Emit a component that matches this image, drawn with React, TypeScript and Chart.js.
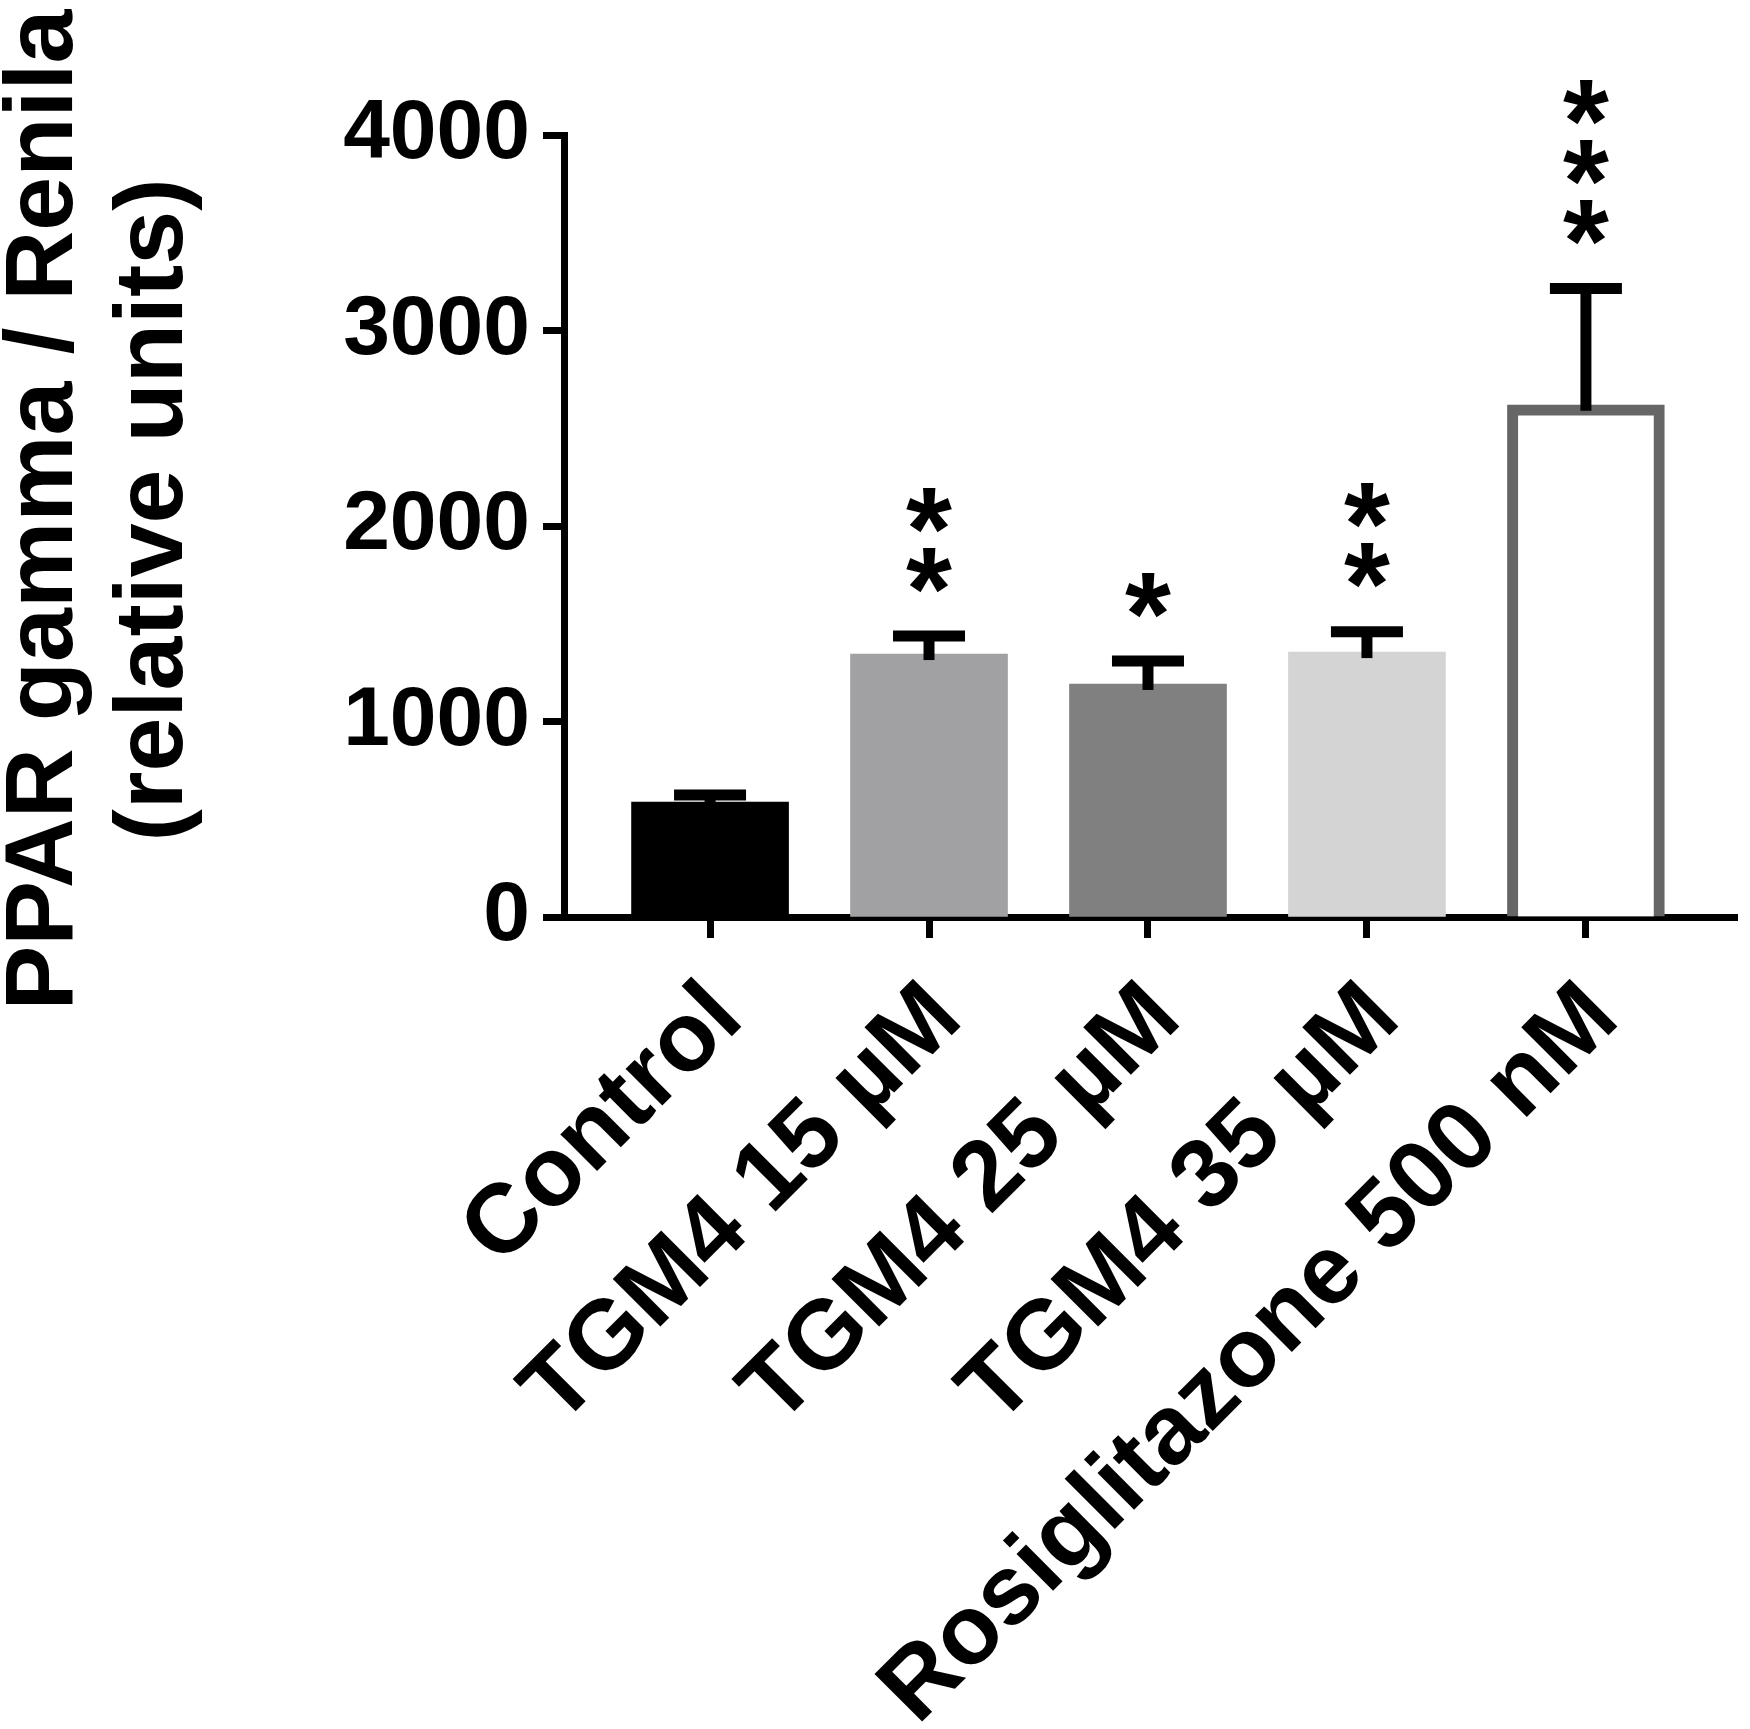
import { useEffect, useRef } from "react";
import { Chart, registerables } from "chart.js";

Chart.register(...registerables);

const CATEGORIES = ["Control", "TGM4 15 µM", "TGM4 25 µM", "TGM4 35 µM", "Rosiglitazone 500 nM"];
const MEANS = [588, 1345, 1192, 1355, 2620];
const SEM = [36, 92, 117, 104, 595];
const STARS = ["", "**", "*", "**", "***"];
const Y_TICKS = [0, 1000, 2000, 3000, 4000];
const Y_TITLE = ["PPAR gamma / Renila", "(relative units)"];

const FILLS = ["#000000", "#a1a1a4", "#808080", "#d4d4d4", "#ffffff"];
const EDGES = ["#000000", "#a1a1a4", "#808080", "#d4d4d4", "#666666"];
const EDGE_WIDTHS = [0, 0, 0, 0, 11];

const FONT = "'Liberation Sans', Arial, Helvetica, sans-serif";

// SEM bars above each bar plus the significance stars
const errorBars = {
  id: "errorBars",
  afterDatasetsDraw(chart: any) {
    const { ctx } = chart;
    const x = chart.scales.x;
    const y = chart.scales.y;
    ctx.save();
    ctx.strokeStyle = "#000";
    ctx.fillStyle = "#000";
    ctx.lineWidth = 11;
    ctx.lineCap = "butt";
    MEANS.forEach((m, i) => {
      const px = x.getPixelForValue(i);
      const top = y.getPixelForValue(m + SEM[i]);
      const base = y.getPixelForValue(m);
      ctx.beginPath();
      ctx.moveTo(px, base + 6);
      ctx.lineTo(px, top);
      ctx.stroke();
      ctx.beginPath();
      ctx.moveTo(px - 36, top);
      ctx.lineTo(px + 36, top);
      ctx.stroke();

      ctx.font = `bold 118px ${FONT}`;
      ctx.textAlign = "left";
      ctx.textBaseline = "alphabetic";
      const mt = ctx.measureText("*");
      const w = mt.actualBoundingBoxRight + mt.actualBoundingBoxLeft;
      const dy = (mt.actualBoundingBoxAscent - mt.actualBoundingBoxDescent) / 2;
      STARS[i].split("").forEach((s, k) => {
        const cy = top - 66 - k * 60;
        ctx.fillText(s, px - w / 2 + mt.actualBoundingBoxLeft, cy + dy);
      });
    });
    ctx.restore();
  },
};

// two-line y title, sitting a little above the middle of the plot like the original
const yTitle = {
  id: "yTitle",
  afterDraw(chart: any) {
    const { ctx, chartArea } = chart;
    const cy = (chartArea.top + chartArea.bottom) / 2 - 16;
    ctx.save();
    ctx.fillStyle = "#000";
    ctx.font = `bold 97px ${FONT}`;
    ctx.textAlign = "center";
    ctx.textBaseline = "middle";
    ctx.translate(45, cy);
    ctx.rotate(-Math.PI / 2);
    Y_TITLE.forEach((t, i) => ctx.fillText(t, 0, i * 110));
    ctx.restore();
  },
};

export default function App() {
  const canvasRef = useRef<HTMLCanvasElement>(null);

  useEffect(() => {
    if (!canvasRef.current) return;
    const chart = new Chart(canvasRef.current, {
      type: "bar",
      data: {
        datasets: [
          {
            data: MEANS.map((v, i) => ({ x: i, y: v })),
            backgroundColor: FILLS,
            borderColor: EDGES,
            borderWidth: EDGE_WIDTHS,
            borderSkipped: "start",
            barThickness: 157,
          },
        ],
      },
      options: {
        animation: false,
        responsive: true,
        maintainAspectRatio: false,
        devicePixelRatio: 1,
        events: [],
        layout: { padding: { top: 135, right: 13, bottom: 0, left: 0 } },
        plugins: { legend: { display: false }, tooltip: { enabled: false } },
        scales: {
          x: {
            type: "linear",
            min: -0.667,
            max: 4.69,
            offset: false,
            z: 1,
            afterFit: (s: any) => {
              s.height = 812;
            },
            border: { display: true, color: "#000", width: 7 },
            grid: {
              offset: false,
              drawOnChartArea: false,
              drawTicks: true,
              tickLength: 21,
              tickWidth: 7,
              tickColor: "#000",
            },
            ticks: {
              stepSize: 1,
              includeBounds: false,
              autoSkip: false,
              minRotation: 45,
              maxRotation: 45,
              padding: 23,
              labelOffset: 17,
              color: "#000",
              font: { family: FONT, size: 98, weight: "bold" },
              callback: (v: any) => (Number.isInteger(v) ? CATEGORIES[v] ?? "" : ""),
            },
          },
          y: {
            min: Y_TICKS[0],
            max: Y_TICKS[Y_TICKS.length - 1],
            z: 1,
            afterFit: (s: any) => {
              s.width = 564;
            },
            border: { display: true, color: "#000", width: 7 },
            grid: {
              drawOnChartArea: false,
              drawTicks: true,
              tickLength: 21,
              tickWidth: 7,
              tickColor: "#000",
            },
            ticks: {
              stepSize: Y_TICKS[1] - Y_TICKS[0],
              padding: 13,
              color: "#000",
              font: { family: FONT, size: 84, weight: "bold" },
              callback: (v: any) => String(v),
            },
            title: { display: false },
          },
        },
      },
      plugins: [errorBars, yTitle],
    } as any);
    return () => chart.destroy();
  }, []);

  return (
    <div style={{ position: "absolute", left: 0, top: 0, width: 1750, height: 1729, background: "#fff" }}>
      <canvas ref={canvasRef} />
    </div>
  );
}
